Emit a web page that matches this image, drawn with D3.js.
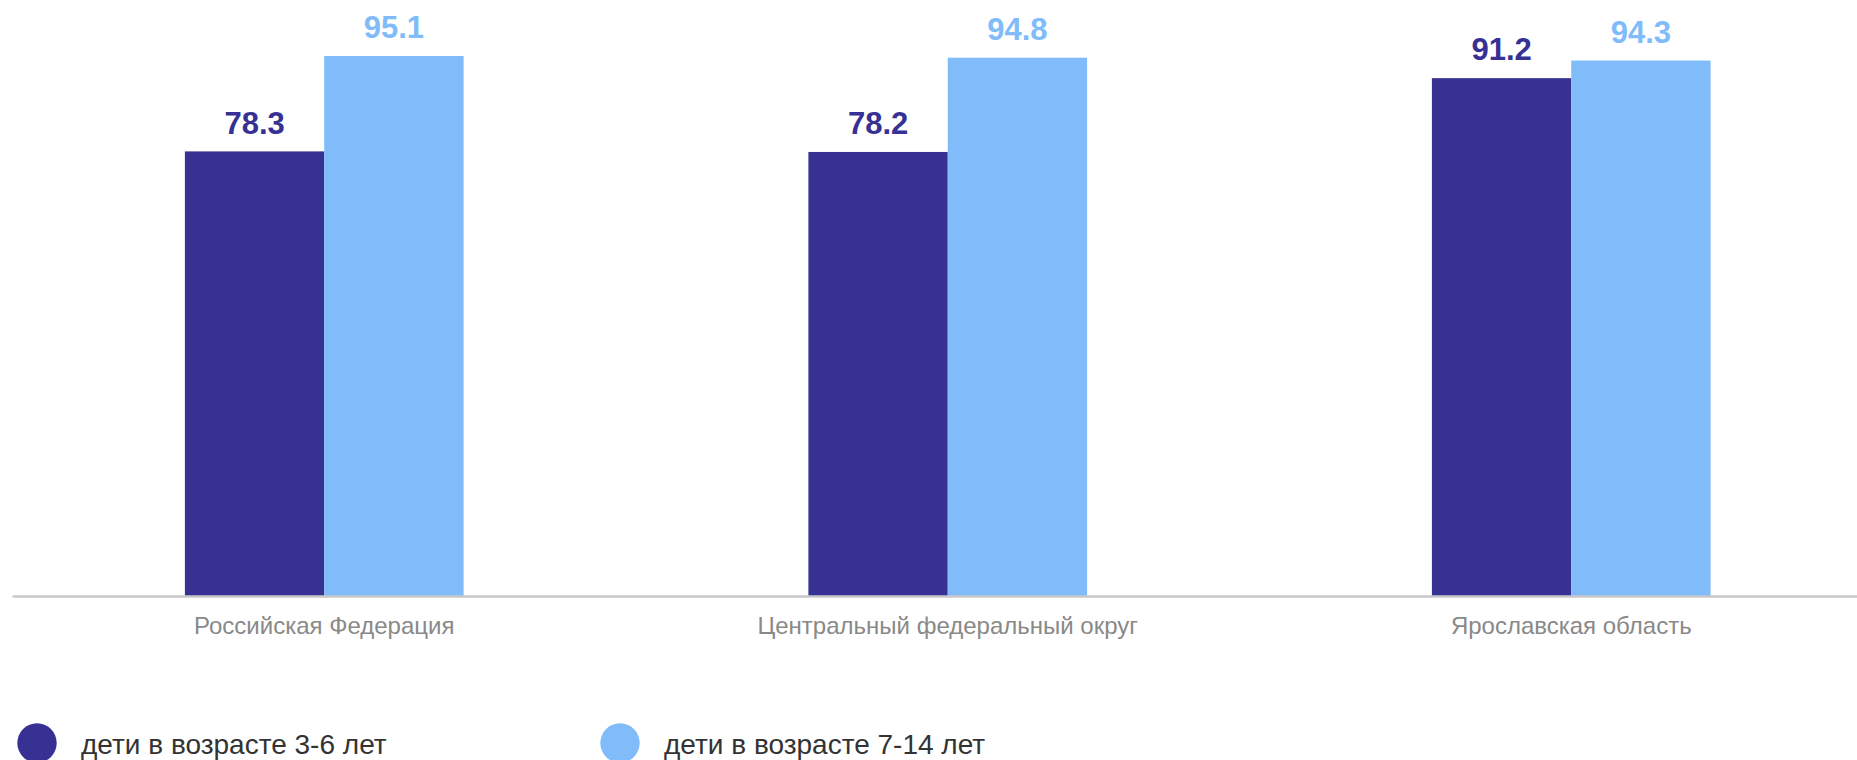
<!DOCTYPE html>
<html>
<head>
<meta charset="utf-8">
<script src="https://cdn.jsdelivr.net/npm/d3@7"></script>
<style>
  html, body { margin: 0; padding: 0; background: #fff; }
  svg { display: block; font-family: "Liberation Sans", Arial, sans-serif; }
</style>
</head>
<body>
<svg></svg>
<script>
const regions = ["Российская Федерация", "Центральный федеральный округ", "Ярославская область"];
const seriesNames = ["дети в возрасте 3-6 лет", "дети в возрасте 7-14 лет"];
const age3to6 = [78.3, 78.2, 91.2];
const age7to14 = [95.1, 94.8, 94.3];
const colors = ["#363193", "#80bbfa"];

const width = 1857, height = 760;
const baseline = 596;

const svg = d3.select("svg")
  .attr("width", width)
  .attr("height", height);

const data = regions.map((r, i) => ({ region: r, values: [age3to6[i], age7to14[i]] }));

const x0 = d3.scaleBand()
  .domain(regions)
  .range([12.5, 1883])
  .paddingInner(0.553)
  .paddingOuter(0.2765);

const x1 = d3.scaleBand()
  .domain([0, 1])
  .range([0, x0.bandwidth()]);

const y = d3.scaleLinear()
  .domain([0, 95.1])
  .range([baseline, 56]);

const groups = svg.append("g")
  .selectAll("g")
  .data(data)
  .join("g")
    .attr("transform", d => `translate(${x0(d.region)},0)`);

groups.selectAll("rect")
  .data(d => d.values)
  .join("rect")
    .attr("x", (d, i) => x1(i))
    .attr("y", d => y(d))
    .attr("width", x1.bandwidth())
    .attr("height", d => y(0) - y(d))
    .attr("fill", (d, i) => colors[i]);

groups.selectAll("text")
  .data(d => d.values)
  .join("text")
    .attr("x", (d, i) => x1(i) + x1.bandwidth() / 2)
    .attr("y", d => y(d) - 17.7)
    .attr("text-anchor", "middle")
    .attr("font-size", 31)
    .attr("font-weight", "bold")
    .attr("fill", (d, i) => colors[i])
    .text(d => d.toFixed(1));

// x axis
svg.append("g")
  .attr("transform", `translate(0,${baseline})`)
  .call(d3.axisBottom(x0).tickSize(0).tickPadding(0))
  .call(g => g.select(".domain").remove())
  .call(g => g.selectAll("text")
    .attr("dy", null)
    .attr("y", 38)
    .attr("font-size", 24)
    .attr("font-family", "'Liberation Sans', Arial, sans-serif")
    .attr("fill", "#898989"));

svg.append("line")
  .attr("x1", 12.5)
  .attr("x2", width)
  .attr("y1", baseline + 0.5)
  .attr("y2", baseline + 0.5)
  .attr("stroke", "#c8c8c8")
  .attr("stroke-width", 2.5);

// legend
const legendX = [37, 620];
const legend = svg.append("g")
  .selectAll("g")
  .data(seriesNames)
  .join("g")
    .attr("transform", (d, i) => `translate(${legendX[i]},743)`);

legend.append("circle")
  .attr("r", 19.7)
  .attr("fill", (d, i) => colors[i]);

legend.append("text")
  .attr("x", 44)
  .attr("y", 11.3)
  .attr("font-size", 28)
  .attr("fill", "#333")
  .text(d => d);
</script>
</body>
</html>
